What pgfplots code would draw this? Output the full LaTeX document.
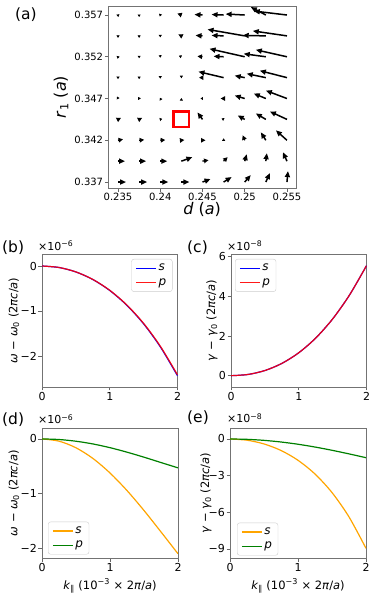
\documentclass[border=0pt]{standalone}
\usepackage{fontspec}
\setmainfont{DejaVu Sans}
\usepackage{pgfplots}
\usepackage{pgfplotstable}
\pgfplotsset{compat=1.18}
\usetikzlibrary{arrows.meta}
\newcommand{\fs}[1]{\fontsize{#1bp}{#1bp}\selectfont}
\definecolor{mplblue}{RGB}{0,0,255}
\definecolor{mplred}{RGB}{255,0,0}
\definecolor{mplorange}{RGB}{255,165,0}
\definecolor{mplgreen}{RGB}{0,128,0}

\pgfplotstableread{
x y u v
0.245 0.357 -8 0.5
0.2475 0.357 -12 0.5
0.25 0.357 -19 1
0.2525 0.357 -15 8
0.255 0.357 -33 4
0.245 0.3545 -7 0.5
0.2475 0.3545 -12 0.5
0.25 0.3545 -37 6.5
0.2525 0.3545 -23 0.5
0.255 0.3545 -34 5
0.2475 0.352 -10 0.5
0.25 0.352 -35 8
0.2525 0.352 -22 3
0.255 0.352 -31 7
0.2475 0.3495 -25 6
0.25 0.3495 -10 2
0.2525 0.3495 -19 4
0.255 0.3495 -27 7
0.25 0.347 -10 3
0.2525 0.347 -12 5
0.255 0.347 -21 8
0.245 0.3445 -5 7
0.25 0.3445 -7 4
0.2525 0.3445 -10 6
0.255 0.3445 -17 8
0.2525 0.342 -5 8
0.255 0.342 -11 10
0.235 0.3395 7 0
0.2375 0.3395 7 0
0.24 0.3395 7 0
0.2425 0.3395 11 4
0.25 0.3395 2 7
0.2525 0.3395 1 8
0.255 0.3395 -4 9
0.235 0.337 8 0
0.2375 0.337 8 0
0.24 0.337 8 0
0.2425 0.337 8 0
0.245 0.337 8 3
0.2475 0.337 8 5
0.25 0.337 6 7
0.2525 0.337 4 9
0.255 0.337 1 11
}\longarrows

\pgfplotstableread{
x y u v
0.2425 0.357 -4 1.5
0.2425 0.3545 -3 1.5
0.245 0.352 -5 0.5
0.245 0.3495 -3.5 0
0.2475 0.347 -3 0
0.235 0.3445 3 1.5
0.2375 0.3445 3 1.5
0.235 0.342 5 1
0.2375 0.342 5 0.5
0.24 0.342 5 0.3
0.2425 0.342 3 0.3
0.245 0.342 3 0
0.25 0.342 -2 5
0.245 0.3395 6 1
0.2475 0.3395 4 4
}\medarrows

\pgfplotstableread{
x y u v
0.235 0.357 0.3 -2
0.2375 0.357 0 -2
0.24 0.357 -0.5 -1.5
0.235 0.3545 0 -2
0.2375 0.3545 0 -2
0.24 0.3545 0 -1.5
0.235 0.352 -0.5 -2
0.2375 0.352 0 -1.5
0.24 0.352 0 -1
0.2425 0.352 -2.5 1
0.235 0.3495 0 -1.5
0.2375 0.3495 0 -1.5
0.24 0.3495 0 -1
0.2425 0.3495 0 -0.6
0.235 0.347 -1 2
0.2375 0.347 -1 1.5
0.24 0.347 -0.5 0.8
0.2425 0.347 0 0.5
0.245 0.347 -2 0
0.24 0.3445 2 0.5
0.2475 0.3445 -2 1
0.2475 0.342 0 2
}\tinyarrows

\pgfplotsset{
  mystyle/.style={
    scale only axis, anchor=south west,
    axis line style={black!55, line width=0.7bp},
    every tick/.style={black!60, line width=0.7bp},
    tick align=outside, major tick length=3.5bp,
    tick pos=left, scaled ticks=false,
    ticklabel style={font=\fs{11}, inner sep=1.5bp},
    label style={font=\fs{11.5}},
    legend style={draw=black!20, rounded corners=2.5bp, fill=white, font=\fs{12},
      inner xsep=4bp, inner ysep=3bp, row sep=2bp, cells={anchor=west}},
    legend image code/.code={\draw[##1, line width=1.2bp] (0bp,0bp) -- (20bp,0bp);},
  },
}

\begin{document}
\begin{tikzpicture}
% ---------- (a)
\begin{axis}[mystyle, at={(108.3bp,409.7bp)}, width=187.7bp, height=182.3bp,
  xmin=0.23385, xmax=0.25607, ymin=0.33625, ymax=0.35808,
  xtick={0.235,0.24,0.245,0.25,0.255}, xticklabels={0.235,0.24,0.245,0.25,0.255},
  ytick={0.337,0.342,0.347,0.352,0.357}, yticklabels={0.337,0.342,0.347,0.352,0.357},
  ticklabel style={font=\fs{10}},
  label style={font=\fs{16}},
  xlabel={\textit{d} (\textit{a})}, ylabel={\textit{r}\textsubscript{1} (\textit{a})},
  xlabel style={at={(axis description cs:0.5,-0.115)}, anchor=center},
  ylabel style={at={(axis description cs:-0.252,0.5)}, anchor=center},
]
\addplot[black, line width=1.5bp, -{Triangle[length=6bp,width=5bp]},
  quiver={u=\thisrow{u}, v=\thisrow{v}, scale arrows=0.000119}] table {\longarrows};
\addplot[black, line width=1.3bp, -{Triangle[length=4.5bp,width=4.5bp]},
  quiver={u=\thisrow{u}, v=\thisrow{v}, scale arrows=0.000119}] table {\medarrows};
\addplot[black, line width=1bp, -{Triangle[length=2.5bp,width=3bp]},
  quiver={u=\thisrow{u}, v=\thisrow{v}, scale arrows=0.000119}] table {\tinyarrows};
\addplot[mplred, line width=2.4bp, line join=miter, line cap=rect] coordinates
  {(0.241583,0.343572) (0.243417,0.343572) (0.243417,0.345428) (0.241583,0.345428) (0.241583,0.343572)};
\end{axis}

% ---------- (b)
\begin{axis}[mystyle, at={(42bp,211bp)}, width=135.5bp, height=133bp,
  xmin=0, xmax=2, ymin=-2.69, ymax=0.267,
  xtick={0,1,2}, xticklabels={0,1,2},
  ytick={-2,-1,0}, yticklabels={−2,−1,0},
  ylabel={\textit{ω} − \textit{ω}\textsubscript{0} (2\textit{πc}/\textit{a})},
  ylabel style={at={(axis description cs:-0.207,0.5)}, anchor=center},
  legend style={at={(1,1)}, anchor=north east, xshift=-5bp, yshift=-5bp},
]
\addplot[mplblue, line width=1.2bp, smooth] coordinates {(0,0) (0.25,-0.033) (0.5,-0.132) (0.75,-0.300) (1,-0.544) (1.25,-0.870) (1.5,-1.286) (1.75,-1.805) (2,-2.440)};
\addlegendentry{\textit{s}}
\addplot[mplred, opacity=0.9, line width=1.2bp, smooth] coordinates {(0,0) (0.25,-0.0325) (0.5,-0.131) (0.75,-0.298) (1,-0.540) (1.25,-0.863) (1.5,-1.276) (1.75,-1.791) (2,-2.421)};
\addlegendentry{\textit{p}}
\end{axis}

% ---------- (c)
\begin{axis}[mystyle, at={(231bp,211bp)}, width=135.5bp, height=133bp,
  xmin=0, xmax=2, ymin=-0.57, ymax=6.136,
  xtick={0,1,2}, xticklabels={0,1,2},
  ytick={0,2,4,6}, yticklabels={0,2,4,6},
  ylabel={\textit{γ} − \textit{γ}\textsubscript{0} (2\textit{πc}/\textit{a})},
  ylabel style={at={(axis description cs:-0.14,0.5)}, anchor=center},
  legend style={at={(0,1)}, anchor=north west, xshift=4bp, yshift=-5bp},
]
\addplot[mplblue, line width=1.2bp, smooth] coordinates {(0,0) (0.25,0.061) (0.5,0.260) (0.75,0.618) (1,1.156) (1.25,1.896) (1.5,2.861) (1.75,4.071) (2,5.548)};
\addlegendentry{\textit{s}}
\addplot[mplred, opacity=0.9, line width=1.2bp, smooth] coordinates {(0,0) (0.25,0.061) (0.5,0.260) (0.75,0.618) (1,1.156) (1.25,1.896) (1.5,2.861) (1.75,4.071) (2,5.548)};
\addlegendentry{\textit{p}}
\end{axis}

% ---------- (d)
\begin{axis}[mystyle, at={(42bp,39.5bp)}, width=136bp, height=130.5bp,
  xmin=0, xmax=2, ymin=-2.187, ymax=0.20,
  xtick={0,1,2}, xticklabels={0,1,2},
  ytick={-2,-1,0}, yticklabels={−2,−1,0},
  xlabel={\textit{k}\textsubscript{∥} (10\textsuperscript{−3} × 2\textit{π}/\textit{a})},
  xlabel style={at={(axis description cs:0.5,-0.21)}, anchor=center},
  ylabel={\textit{ω} − \textit{ω}\textsubscript{0} (2\textit{πc}/\textit{a})},
  ylabel style={at={(axis description cs:-0.206,0.5)}, anchor=center},
  legend style={at={(0,0)}, anchor=south west, xshift=6bp, yshift=4bp},
]
\addplot[mplorange, line width=1.2bp, smooth] coordinates {(0,0) (0.25,-0.041) (0.5,-0.162) (0.75,-0.358) (1,-0.623) (1.25,-0.944) (1.5,-1.309) (1.75,-1.701) (2,-2.10)};
\addlegendentry{\textit{s}}
\addplot[mplgreen, line width=1.2bp, smooth] coordinates {(0,0) (0.25,-0.0106) (0.5,-0.042) (0.75,-0.092) (1,-0.160) (1.25,-0.242) (1.5,-0.334) (1.75,-0.432) (2,-0.529)};
\addlegendentry{\textit{p}}
\end{axis}

% ---------- (e)
\begin{axis}[mystyle, at={(230bp,39.5bp)}, width=136bp, height=130.5bp,
  xmin=0, xmax=2, ymin=-9.78, ymax=0.90,
  xtick={0,1,2}, xticklabels={0,1,2},
  ytick={-9,-6,-3,0}, yticklabels={−9,−6,−3,0},
  xlabel={\textit{k}\textsubscript{∥} (10\textsuperscript{−3} × 2\textit{π}/\textit{a})},
  xlabel style={at={(axis description cs:0.5,-0.21)}, anchor=center},
  ylabel={\textit{γ} − \textit{γ}\textsubscript{0} (2\textit{πc}/\textit{a})},
  ylabel style={at={(axis description cs:-0.176,0.5)}, anchor=center},
  legend style={at={(0,0)}, anchor=south west, xshift=7bp, yshift=3bp},
]
\addplot[mplorange, line width=1.2bp, smooth] coordinates {(0,0) (0.25,-0.099) (0.5,-0.405) (0.75,-0.939) (1,-1.742) (1.25,-2.867) (1.5,-4.383) (1.75,-6.377) (2,-8.948)};
\addlegendentry{\textit{s}}
\addplot[mplgreen, line width=1.2bp, smooth] coordinates {(0,0) (0.25,-0.0279) (0.5,-0.111) (0.75,-0.246) (1,-0.430) (1.25,-0.658) (1.5,-0.924) (1.75,-1.218) (2,-1.531)};
\addlegendentry{\textit{p}}
\end{axis}

% panel labels and offset texts
\node[anchor=base west, inner sep=0, font=\fs{15.5}] at (15bp,578.3bp) {(a)};
\node[anchor=base west, inner sep=0, font=\fs{15.5}] at (2bp,345bp) {(b)};
\node[anchor=base west, inner sep=0, font=\fs{15.5}] at (187bp,345bp) {(c)};
\node[anchor=base west, inner sep=0, font=\fs{15.5}] at (2bp,173bp) {(d)};
\node[anchor=base west, inner sep=0, font=\fs{15.5}] at (187bp,175bp) {(e)};
\node[anchor=base west, inner sep=0, font=\fs{11}] at (38bp,347.3bp) {×10\textsuperscript{−6}};
\node[anchor=base west, inner sep=0, font=\fs{11}] at (227bp,347.3bp) {×10\textsuperscript{−8}};
\node[anchor=base west, inner sep=0, font=\fs{11}] at (38bp,174bp) {×10\textsuperscript{−6}};
\node[anchor=base west, inner sep=0, font=\fs{11}] at (227bp,175bp) {×10\textsuperscript{−8}};

\pgfresetboundingbox
\path[use as bounding box] (0bp,0bp) rectangle (373bp,598bp);
\end{tikzpicture}
\end{document}
